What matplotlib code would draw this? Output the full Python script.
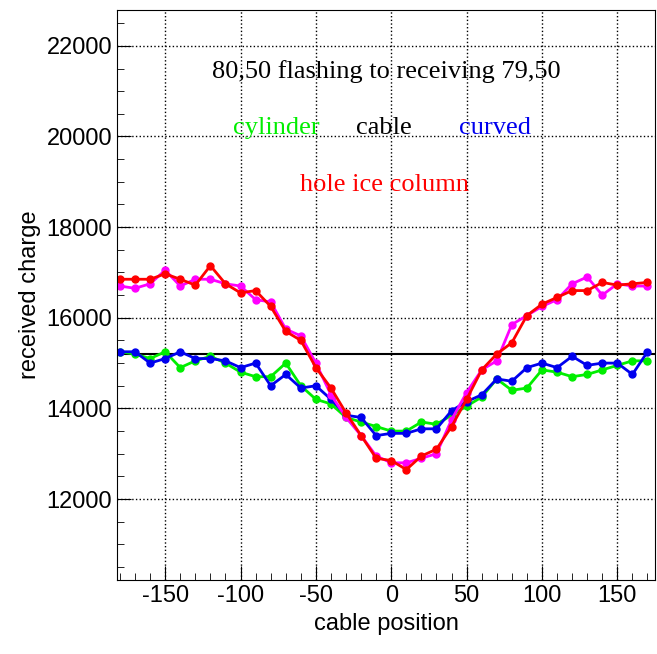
import numpy as np
import matplotlib.pyplot as plt
from matplotlib.ticker import MultipleLocator

plt.rcParams["font.family"] = ["Liberation Sans", "DejaVu Sans"]
plt.rcParams["axes.unicode_minus"] = False

# cable position, every 10 from -180 to 170
pos = np.arange(-180, 171, 10)

hole_ice = [16850, 16850, 16850, 16970, 16850, 16720, 17150, 16750, 16550, 16600,
            16250, 15700, 15500, 14900, 14450, 13900, 13400, 12900, 12850, 12650,
            12950, 13100, 13600, 14200, 14850, 15200, 15450, 16050, 16300, 16450,
            16600, 16600, 16780, 16720, 16750, 16780]
magenta = [16700, 16650, 16750, 17050, 16700, 16850, 16850, 16750, 16700, 16400,
           16350, 15750, 15600, 15000, 14300, 13800, 13400, 12950, 12800, 12800,
           12900, 13000, 13750, 14350, 14850, 15050, 15850, 16050, 16250, 16400,
           16750, 16900, 16500, 16750, 16700, 16700]
cylinder = [15250, 15200, 15100, 15250, 14900, 15050, 15150, 15000, 14800, 14700,
            14700, 15000, 14500, 14200, 14100, 13800, 13700, 13600, 13500, 13500,
            13700, 13650, 13850, 14050, 14250, 14650, 14400, 14450, 14850, 14800,
            14700, 14750, 14850, 14950, 15050, 15050]
curved = [15250, 15250, 15000, 15100, 15250, 15100, 15100, 15050, 14900, 15000,
          14500, 14750, 14450, 14500, 14200, 13850, 13800, 13400, 13450, 13450,
          13550, 13550, 13950, 14150, 14300, 14650, 14600, 14900, 15000, 14900,
          15150, 14950, 15000, 15000, 14750, 15250]
cable = 15200

fig = plt.figure(figsize=(6.57, 6.54), dpi=100)
ax = fig.add_axes([0.178, 0.113, 0.819, 0.872])

ax.axhline(cable, color="black", lw=1.5, zorder=1)
ax.plot(pos, cylinder, "-o", color="#00ee00", ms=5, lw=2)
ax.plot(pos, curved, "-o", color="#0000ee", ms=5, lw=2)
ax.plot(pos, magenta, "-o", color="#ff00ff", ms=5, lw=2)
ax.plot(pos, hole_ice, "-o", color="#ff0000", ms=5, lw=2)

ax.set_xlim(-182, 175)
ax.set_ylim(10212, 22795)
ax.xaxis.set_major_locator(MultipleLocator(50))
ax.xaxis.set_minor_locator(MultipleLocator(10))
ax.yaxis.set_major_locator(MultipleLocator(2000))
ax.yaxis.set_minor_locator(MultipleLocator(500))
ax.tick_params(which="both", direction="in", labelsize=17)
ax.tick_params(which="major", length=10)
ax.tick_params(which="minor", length=5)
ax.grid(True, which="major", ls=":", color="black", lw=1)
ax.set_xlabel("cable position", fontsize=17)
ax.set_ylabel("received charge", fontsize=17)

serif = "Liberation Serif"
ax.text(0.5, 0.88, "80,50 flashing to receiving 79,50", transform=ax.transAxes,
        ha="center", fontsize=19, family=serif)
ax.text(0.215, 0.783, "cylinder", color="#00ee00", transform=ax.transAxes,
        ha="left", fontsize=19, family=serif)
ax.text(0.445, 0.783, "cable", color="black", transform=ax.transAxes,
        ha="left", fontsize=19, family=serif)
ax.text(0.635, 0.783, "curved", color="#0000ee", transform=ax.transAxes,
        ha="left", fontsize=19, family=serif)
ax.text(0.34, 0.683, "hole ice column", color="red", transform=ax.transAxes,
        ha="left", fontsize=19, family=serif)

fig.savefig("out.png", dpi=100)
